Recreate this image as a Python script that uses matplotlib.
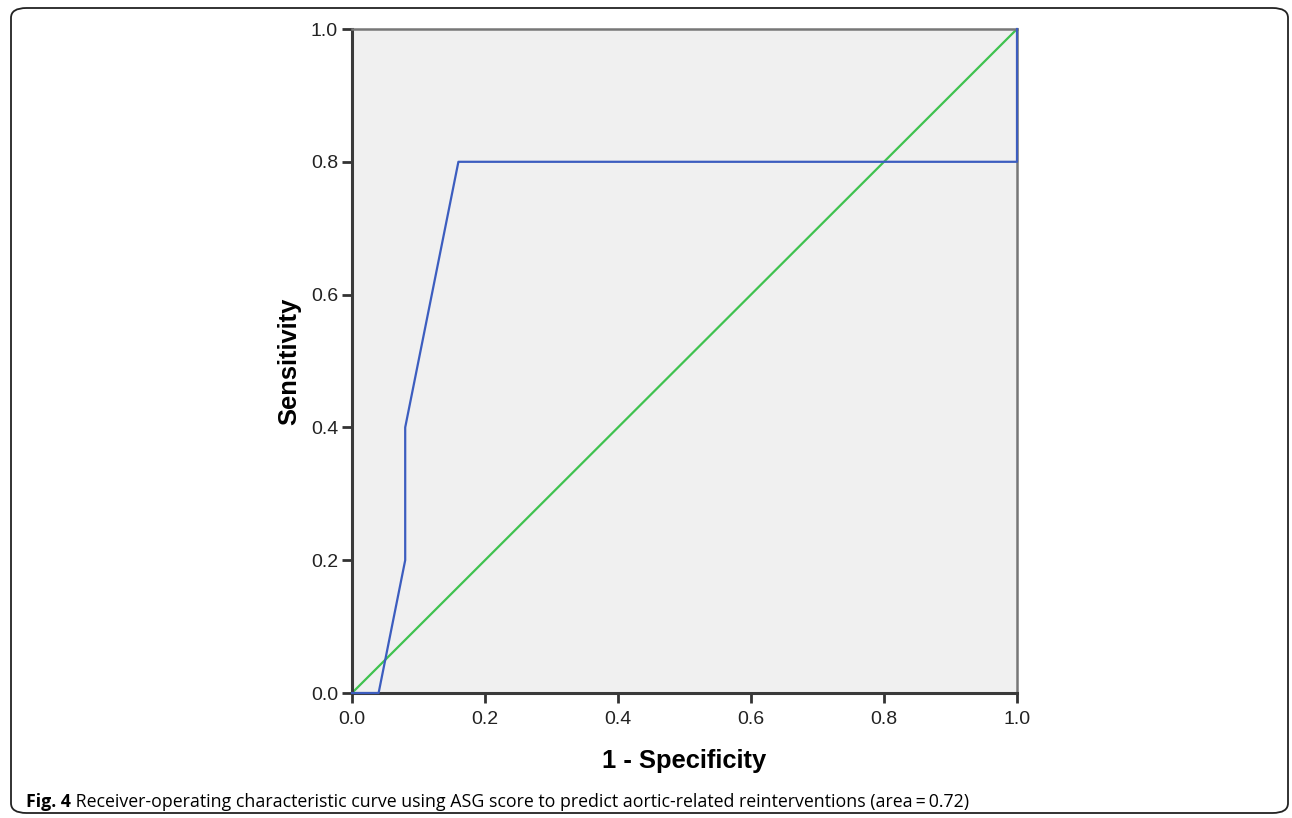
import matplotlib.pyplot as plt
from matplotlib.patches import FancyBboxPatch

# ROC curve points (1 - specificity, sensitivity)
fpr = [0.0, 0.04, 0.08, 0.08, 0.16, 1.0, 1.0]
tpr = [0.0, 0.0, 0.2, 0.4, 0.8, 0.8, 1.0]
ref_line = [0.0, 1.0]
ticks = [0.0, 0.2, 0.4, 0.6, 0.8, 1.0]
tick_labels = ['0.0', '0.2', '0.4', '0.6', '0.8', '1.0']
caption_bold = 'Fig. 4'
caption = ' Receiver-operating characteristic curve using ASG score to predict aortic-related reinterventions (area\u2009=\u20090.72)'

fig = plt.figure(figsize=(12.92, 8.18), dpi=100)

# rounded frame around the whole figure
frame = FancyBboxPatch((11/1292, 5/818), 1277/1292, 805/818,
                       boxstyle='round,pad=0,rounding_size=0.012',
                       transform=fig.transFigure, fill=False,
                       edgecolor='#222222', linewidth=1.3)
fig.patches.append(frame)

ax = fig.add_axes([352/1292, 1 - 693/818, 665/1292, 664/818])
ax.set_facecolor('#f0f0f0')
ax.plot(ref_line, ref_line, color='#3fc24f', linewidth=1.6, zorder=2)
ax.plot(fpr, tpr, color='#3c5dbf', linewidth=1.6, zorder=3, clip_on=False)

ax.set_xlim(0, 1)
ax.set_ylim(0, 1)
ax.set_xticks(ticks)
ax.set_yticks(ticks)
ax.set_xticklabels(tick_labels, fontsize=14, family='Liberation Sans', color='#222222')
ax.set_yticklabels(tick_labels, fontsize=14, family='Liberation Sans', color='#222222')
ax.tick_params(direction='out', length=7, width=2, color='#333333', pad=3)
ax.tick_params(axis='x', pad=6)

for side in ['left', 'bottom']:
    ax.spines[side].set_color('#3a3a3a')
    ax.spines[side].set_linewidth(2.2)
for side in ['top', 'right']:
    ax.spines[side].set_color('#777777')
    ax.spines[side].set_linewidth(1.8)

ax.set_xlabel('1 - Specificity', fontsize=18.4, fontweight='bold', family='Liberation Sans', labelpad=15)
ax.set_ylabel('Sensitivity', fontsize=18.4, fontweight='bold', family='Liberation Sans', labelpad=7)

t = fig.text(26/1292, 1 - 802/818, caption_bold, fontsize=12.75, fontweight='bold',
             family='Open Sans', va='center', ha='left')
fig.canvas.draw()
bb = t.get_window_extent()
fig.text(bb.x1 / 1292, 1 - 802/818, caption, fontsize=12.75, family='Open Sans',
         va='center', ha='left')

fig.savefig('out.png', dpi=100)
